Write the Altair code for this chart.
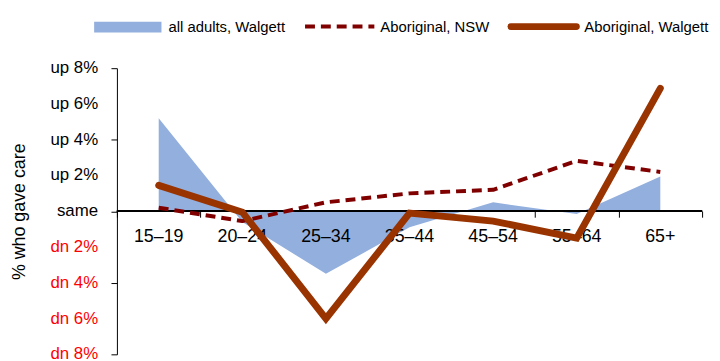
import altair as alt
import pandas as pd

categories = ["15–19", "20–24", "25–34", "35–44", "45–54", "55–64", "65+"]
all_adults_walgett = [5.2, -0.6, -3.5, -0.9, 0.5, -0.15, 1.95]
aboriginal_nsw = [0.2, -0.55, 0.5, 1.0, 1.2, 2.82, 2.2]
aboriginal_walgett = [1.45, -0.05, -6.0, -0.1, -0.55, -1.5, 6.87]
legend_labels = ["all adults, Walgett", "Aboriginal, NSW", "Aboriginal, Walgett"]
y_ticks = [-8, -6, -4, -2, 0, 2, 4, 6, 8]
y_tick_labels = ["dn 8%", "dn 6%", "dn 4%", "dn 2%", "same", "up 2%", "up 4%", "up 6%", "up 8%"]

df = pd.DataFrame({
    "age": categories,
    "all": all_adults_walgett,
    "nsw": aboriginal_nsw,
    "walgett": aboriginal_walgett,
})
ydf = pd.DataFrame({"v": y_ticks, "lab": y_tick_labels})

FONT = "Liberation Sans"
W, H = 591, 289

x_enc = alt.X(
    "age:N",
    sort=categories,
    scale=alt.Scale(type="band", paddingInner=0, paddingOuter=0),
    axis=alt.Axis(
        title=None,
        offset=-H / 2,
        tickBand="extent",
        domain=False,
        ticks=True,
        tickSize=6,
        tickColor="#000",
        tickWidth=1,
        labels=False,
    ),
)

y_scale = alt.Scale(domain=[-8, 8], nice=False, zero=False)
y_axis = alt.Axis(
    values=y_ticks,
    title="% who gave care",
    titleFont=FONT,
    titleFontSize=18,
    titleFontWeight="normal",
    titleColor="#000",
    titlePadding=83,
    labels=False,
    domainColor="#000",
    tickColor="#000",
    tickSize=6,
    grid=False,
)

base = alt.Chart(df)

area = base.mark_area(color="#93afdd", opacity=1, line=False).encode(
    x=x_enc,
    y=alt.Y("all:Q", scale=y_scale, axis=y_axis),
    y2=alt.datum(0),
)

zero_rule = base.mark_rule(color="#000", strokeWidth=1.3).encode(
    y=alt.Y(datum=0),
)

x_labels = base.mark_text(
    font=FONT, fontSize=18, color="#000", baseline="top", align="center", dy=17
).encode(x=x_enc, y=alt.Y(datum=0), text="age:N")

y_labels = alt.Chart(ydf).mark_text(
    font=FONT, fontSize=17, align="right", baseline="middle"
).encode(
    x=alt.value(-19),
    y=alt.Y("v:Q", scale=y_scale),
    text="lab:N",
    color=alt.condition("datum.v < 0", alt.value("#ff0000"), alt.value("#000000")),
)

nsw_line = base.mark_line(
    color="#800000", strokeWidth=4, strokeDash=[10, 6], strokeJoin="round"
).encode(x=x_enc, y=alt.Y("nsw:Q", scale=y_scale))

walgett_line = base.mark_line(
    color="#993300", strokeWidth=7, strokeJoin="miter", strokeCap="round"
).encode(x=x_enc, y=alt.Y("walgett:Q", scale=y_scale))

# legend
leg_df = pd.DataFrame({"label": legend_labels})
leg0 = alt.Chart(leg_df.iloc[[0]])
leg1 = alt.Chart(leg_df.iloc[[1]])
leg2 = alt.Chart(leg_df.iloc[[2]])

sw0 = leg0.mark_rect(color="#93afdd").encode(
    x=alt.value(-23), x2=alt.value(45), y=alt.value(-47), y2=alt.value(-36)
)
sw1 = leg1.mark_rule(color="#800000", strokeWidth=4, strokeDash=[10, 6]).encode(
    x=alt.value(190), x2=alt.value(260), y=alt.value(-42)
)
sw2 = leg2.mark_rule(color="#993300", strokeWidth=7, strokeCap="round").encode(
    x=alt.value(398), x2=alt.value(464), y=alt.value(-42)
)
txt_kw = dict(font=FONT, fontSize=15, color="#000", align="left", baseline="middle")
t0 = leg0.mark_text(**txt_kw).encode(x=alt.value(52), y=alt.value(-42), text="label:N")
t1 = leg1.mark_text(**txt_kw).encode(x=alt.value(266), y=alt.value(-42), text="label:N")
t2 = leg2.mark_text(**txt_kw).encode(x=alt.value(472), y=alt.value(-42), text="label:N")

chart = alt.layer(
    area, zero_rule, x_labels, y_labels, nsw_line, walgett_line, sw0, sw1, sw2, t0, t1, t2
).properties(
    width=W,
    height=H,
    autosize=alt.AutoSizeParams(type="none"),
    padding={"left": 110, "top": 59, "right": 10, "bottom": 10},
).configure_view(stroke=None)

chart.save("out.html", embed_options={"renderer": "svg", "actions": False})
